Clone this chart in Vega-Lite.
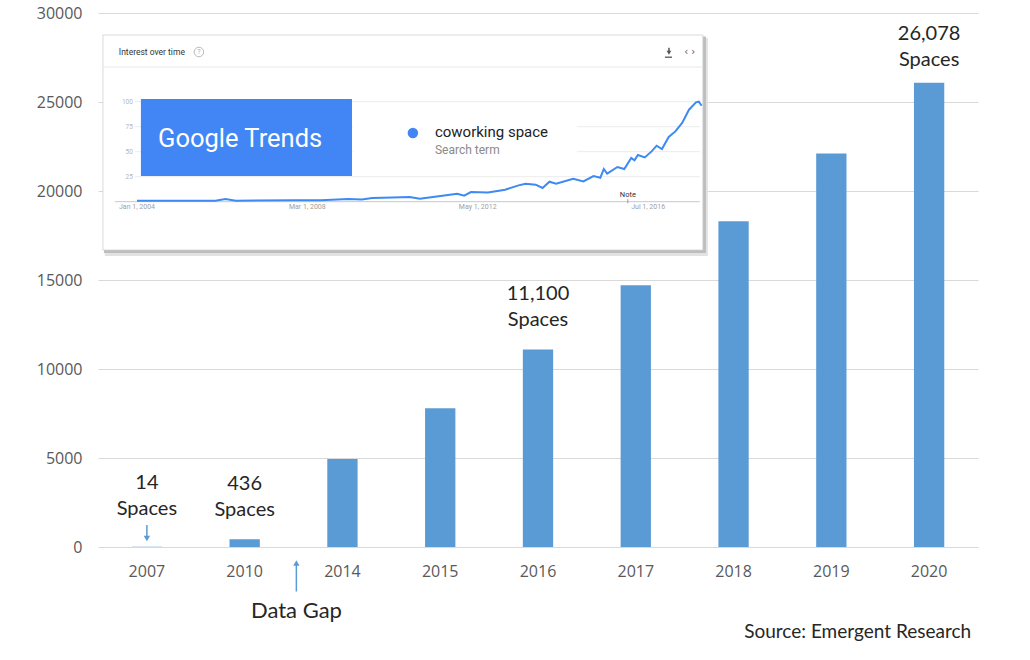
{
  "$schema": "https://vega.github.io/schema/vega-lite/v6.json",
  "width": 880,
  "height": 534,
  "autosize": {"type": "none"},
  "padding": {"left": 98, "top": 13, "right": 52, "bottom": 113},
  "background": "white",
  "config": {"view": {"stroke": null}, "font": "Open Sans"},
  "datasets": {
    "bars": [
      {"year": "2007", "spaces": 14, "note": "14\nSpaces"},
      {"year": "2010", "spaces": 436, "note": "436\nSpaces"},
      {"year": "2014", "spaces": 4950, "note": null},
      {"year": "2015", "spaces": 7800, "note": null},
      {"year": "2016", "spaces": 11100, "note": "11,100\nSpaces"},
      {"year": "2017", "spaces": 14700, "note": null},
      {"year": "2018", "spaces": 18300, "note": null},
      {"year": "2019", "spaces": 22100, "note": null},
      {"year": "2020", "spaces": 26078, "note": "26,078\nSpaces"}
    ],
    "trend": [
      {"date": "2004-01-01", "interest": 1},
      {"date": "2005-12-01", "interest": 1},
      {"date": "2006-03-01", "interest": 2.7},
      {"date": "2006-06-01", "interest": 1},
      {"date": "2007-11-01", "interest": 1.5},
      {"date": "2008-07-01", "interest": 1.5},
      {"date": "2009-03-01", "interest": 2.7},
      {"date": "2009-07-01", "interest": 2.3},
      {"date": "2009-10-01", "interest": 3.7},
      {"date": "2010-04-01", "interest": 4.3},
      {"date": "2010-09-01", "interest": 4.7},
      {"date": "2010-12-01", "interest": 3},
      {"date": "2011-05-01", "interest": 5.3},
      {"date": "2011-11-01", "interest": 8},
      {"date": "2012-01-01", "interest": 6},
      {"date": "2012-03-01", "interest": 9.7},
      {"date": "2012-08-01", "interest": 9.3},
      {"date": "2013-01-01", "interest": 12},
      {"date": "2013-05-01", "interest": 16.3},
      {"date": "2013-07-01", "interest": 18},
      {"date": "2013-10-01", "interest": 17},
      {"date": "2013-12-01", "interest": 13.7},
      {"date": "2014-02-01", "interest": 20},
      {"date": "2014-04-01", "interest": 18},
      {"date": "2014-09-01", "interest": 23},
      {"date": "2014-12-01", "interest": 20.3},
      {"date": "2015-03-01", "interest": 25.7},
      {"date": "2015-05-01", "interest": 24},
      {"date": "2015-06-01", "interest": 32.7},
      {"date": "2015-07-01", "interest": 28},
      {"date": "2015-10-01", "interest": 34.7},
      {"date": "2015-12-01", "interest": 32.7},
      {"date": "2016-02-01", "interest": 43.7},
      {"date": "2016-03-01", "interest": 41.3},
      {"date": "2016-04-01", "interest": 46.7},
      {"date": "2016-06-01", "interest": 44.3},
      {"date": "2016-08-01", "interest": 50.3},
      {"date": "2016-09-15", "interest": 56},
      {"date": "2016-11-01", "interest": 52.7},
      {"date": "2017-01-01", "interest": 64.7},
      {"date": "2017-03-01", "interest": 70.3},
      {"date": "2017-05-01", "interest": 78.7},
      {"date": "2017-07-01", "interest": 92},
      {"date": "2017-09-01", "interest": 99.3},
      {"date": "2017-09-27", "interest": 100},
      {"date": "2017-10-22", "interest": 96}
    ],
    "dateLabels": [
      {"date": "2004-01-01", "label": "Jan 1, 2004"},
      {"date": "2008-03-01", "label": "Mar 1, 2008"},
      {"date": "2012-05-01", "label": "May 1, 2012"},
      {"date": "2016-07-01", "label": "Jul 1, 2016"}
    ],
    "grid": [
      {"interest": 25, "label": "25"},
      {"interest": 50, "label": "50"},
      {"interest": 75, "label": "75"},
      {"interest": 100, "label": "100"}
    ]
  },
  "layer": [
    {
      "data": {"name": "bars"},
      "encoding": {
        "x": {
          "field": "year",
          "type": "ordinal",
          "scale": {
            "domain": ["2007", "2010", "2014", "2015", "2016", "2017", "2018", "2019", "2020"],
            "paddingInner": 0.69,
            "paddingOuter": 0.345
          },
          "axis": {
            "title": null,
            "labelAngle": 0,
            "labelFont": "Open Sans",
            "labelFontSize": 16,
            "labelColor": "#595959",
            "ticks": false,
            "domain": false,
            "labelPadding": 16
          }
        },
        "y": {
          "field": "spaces",
          "type": "quantitative",
          "scale": {"domain": [0, 30000], "nice": false},
          "axis": {
            "title": null,
            "values": [0, 5000, 10000, 15000, 20000, 25000, 30000],
            "format": "d",
            "grid": true,
            "gridColor": "#d9d9d9",
            "ticks": false,
            "domain": false,
            "labelPadding": 16,
            "labelFont": "Open Sans",
            "labelFontSize": 16,
            "labelColor": "#595959"
          }
        }
      },
      "layer": [
        {"mark": {"type": "bar", "color": "#5b9bd5"}},
        {
          "transform": [{"filter": "datum.year == '2010' || datum.year == '2016'"}],
          "mark": {"type": "text", "font": "Lato", "fontSize": 20, "color": "#262626", "baseline": "bottom", "lineBreak": "\n", "lineHeight": 26, "dy": -45},
          "encoding": {"text": {"field": "note"}}
        },
        {
          "transform": [{"filter": "datum.year == '2020'"}],
          "mark": {"type": "text", "font": "Lato", "fontSize": 20, "color": "#262626", "baseline": "bottom", "lineBreak": "\n", "lineHeight": 26, "dy": -39},
          "encoding": {"text": {"field": "note"}}
        },
        {
          "transform": [{"filter": "datum.year == '2007'"}],
          "mark": {"type": "text", "font": "Lato", "fontSize": 20, "color": "#262626", "baseline": "bottom", "lineBreak": "\n", "lineHeight": 26, "dy": -54},
          "encoding": {"text": {"field": "note"}}
        },
        {
          "transform": [{"filter": "datum.year == '2007'"}],
          "mark": {"type": "rule", "color": "#5b9bd5", "strokeWidth": 1.5},
          "encoding": {"y": {"datum": 1236, "type": "quantitative"}, "y2": {"datum": 560}}
        },
        {
          "transform": [{"filter": "datum.year == '2007'"}],
          "mark": {"type": "point", "shape": "triangle-down", "filled": true, "color": "#5b9bd5", "size": 40, "opacity": 1},
          "encoding": {"y": {"datum": 480, "type": "quantitative"}}
        },
        {
          "transform": [{"filter": "datum.year == '2014'"}],
          "mark": {"type": "rule", "color": "#5b9bd5", "strokeWidth": 1.5},
          "encoding": {"x": {"field": "year", "type": "ordinal", "bandPosition": -1.02}, "y": {"datum": -2500, "type": "quantitative"}, "y2": {"datum": -950}}
        },
        {
          "transform": [{"filter": "datum.year == '2014'"}],
          "mark": {"type": "point", "shape": "triangle-up", "filled": true, "color": "#5b9bd5", "size": 40, "opacity": 1},
          "encoding": {"x": {"field": "year", "type": "ordinal", "bandPosition": -1.02}, "y": {"datum": -900, "type": "quantitative"}}
        },
        {
          "transform": [{"filter": "datum.year == '2014'"}],
          "mark": {"type": "text", "font": "Lato", "fontSize": 22, "color": "#262626", "align": "center", "baseline": "middle", "dx": -46, "text": "Data Gap"},
          "encoding": {"y": {"datum": -3596, "type": "quantitative"}}
        },
        {
          "transform": [{"filter": "datum.year == '2020'"}],
          "mark": {"type": "text", "font": "Lato", "fontSize": 19, "color": "#262626", "align": "right", "baseline": "middle", "dx": 42, "text": "Source: Emergent Research"},
          "encoding": {"y": {"datum": -4775, "type": "quantitative"}}
        },
        {
          "transform": [{"filter": "datum.year == '2020'"}],
          "mark": {"type": "rule", "color": "#5aa9d6", "strokeWidth": 3},
          "encoding": {"x": {"field": "year", "type": "ordinal", "bandPosition": 3.88}, "y": {"datum": 30800, "type": "quantitative"}, "y2": {"datum": -6400}}
        }
      ]
    },
    {
      "data": {"name": "trend"},
      "layer": [
        {
          "data": {"values": [{}]},
          "mark": {"type": "rect", "color": "#e2e2e2"},
          "encoding": {
            "x": {"datum": {"year": 2003, "month": 3, "date": 20}, "type": "temporal", "axis": null,
              "scale": {"type": "time", "domain": [{"year": 2004, "month": 1, "date": 1}, {"year": 2018, "month": 1, "date": 1}], "range": [39, 611.6], "nice": false}},
            "x2": {"datum": {"year": 2017, "month": 12, "date": 17}},
            "y": {"datum": 163.7, "type": "quantitative", "axis": null,
              "scale": {"domain": [0, 100], "range": [188.7, 88.7], "nice": false, "zero": false}},
            "y2": {"datum": -54.3}
          }
        },
        {
          "data": {"values": [{}]},
          "mark": {"type": "rect", "color": "#bdbdbd"},
          "encoding": {
            "x": {"datum": {"year": 2003, "month": 3, "date": 12}, "type": "temporal"},
            "x2": {"datum": {"year": 2017, "month": 11, "date": 29}},
            "y": {"datum": 165.2, "type": "quantitative"},
            "y2": {"datum": -51.3}
          }
        },
        {
          "data": {"values": [{}]},
          "mark": {"type": "rect", "color": "white", "stroke": "#d0d0d0", "strokeWidth": 0.8},
          "encoding": {
            "x": {"datum": {"year": 2003, "month": 3, "date": 3}, "type": "temporal"},
            "x2": {"datum": {"year": 2017, "month": 11, "date": 2}},
            "y": {"datum": 166.7, "type": "quantitative"},
            "y2": {"datum": -48.3}
          }
        },
        {
          "data": {"values": [{}]},
          "mark": {"type": "rule", "color": "#e8e8e8", "strokeWidth": 1},
          "encoding": {
            "x": {"datum": {"year": 2003, "month": 3, "date": 6}, "type": "temporal"},
            "x2": {"datum": {"year": 2017, "month": 10, "date": 30}},
            "y": {"datum": 134.7, "type": "quantitative"}
          }
        },
        {
          "data": {"name": "grid"},
          "mark": {"type": "rule", "color": "#ececec", "strokeWidth": 1},
          "encoding": {
            "x": {"datum": {"year": 2003, "month": 12, "date": 13}, "type": "temporal"},
            "x2": {"datum": {"year": 2017, "month": 10, "date": 6}},
            "y": {"field": "interest", "type": "quantitative"}
          }
        },
        {
          "data": {"name": "grid"},
          "mark": {"type": "text", "align": "right", "baseline": "middle", "font": "Roboto", "fontSize": 6.5, "color": "#b5b5b5"},
          "encoding": {
            "x": {"datum": {"year": 2003, "month": 11, "date": 25}, "type": "temporal"},
            "y": {"field": "interest", "type": "quantitative"},
            "text": {"field": "label"}
          }
        },
        {
          "data": {"values": [{}]},
          "mark": {"type": "rule", "color": "#c8c8c8", "strokeWidth": 1},
          "encoding": {
            "x": {"datum": {"year": 2003, "month": 6, "date": 17}, "type": "temporal"},
            "x2": {"datum": {"year": 2017, "month": 10, "date": 6}},
            "y": {"datum": 0, "type": "quantitative"}
          }
        },
        {
          "data": {"name": "dateLabels"},
          "mark": {"type": "text", "align": "center", "baseline": "middle", "font": "Roboto", "fontSize": 7, "color": "#a0a0a0"},
          "encoding": {
            "x": {"field": "date", "type": "temporal"},
            "y": {"datum": -5.5, "type": "quantitative"},
            "text": {"field": "label"}
          }
        },
        {
          "mark": {"type": "line", "color": "#3d8af2", "strokeWidth": 2},
          "encoding": {
            "x": {"field": "date", "type": "temporal"},
            "y": {"field": "interest", "type": "quantitative"}
          }
        },
        {
          "data": {"values": [{}]},
          "mark": {"type": "rect", "color": "#4285f4"},
          "encoding": {
            "x": {"datum": {"year": 2004, "month": 2, "date": 5}, "type": "temporal"},
            "x2": {"datum": {"year": 2009, "month": 4, "date": 4}},
            "y": {"datum": 102.7, "type": "quantitative"},
            "y2": {"datum": 25.7}
          }
        },
        {
          "data": {"values": [{"t": "Google Trends"}]},
          "mark": {"type": "text", "align": "left", "baseline": "alphabetic", "font": "Roboto", "fontSize": 25.5, "color": "white"},
          "encoding": {
            "x": {"datum": {"year": 2004, "month": 7, "date": 7}, "type": "temporal"},
            "y": {"datum": 55, "type": "quantitative"},
            "text": {"field": "t"}
          }
        },
        {
          "data": {"values": [{}]},
          "mark": {"type": "rect", "color": "white"},
          "encoding": {
            "x": {"datum": {"year": 2009, "month": 4, "date": 12}, "type": "temporal"},
            "x2": {"datum": {"year": 2014, "month": 10, "date": 3}},
            "y": {"datum": 91.7, "type": "quantitative"},
            "y2": {"datum": 33.7}
          }
        },
        {
          "data": {"values": [{}]},
          "mark": {"type": "point", "shape": "circle", "filled": true, "color": "#4285f4", "size": 110, "opacity": 1},
          "encoding": {
            "x": {"datum": {"year": 2010, "month": 9, "date": 30}, "type": "temporal"},
            "y": {"datum": 68.7, "type": "quantitative"}
          }
        },
        {
          "data": {"values": [{"t": "coworking space"}]},
          "mark": {"type": "text", "align": "left", "baseline": "middle", "font": "Roboto", "fontSize": 15, "color": "#222222"},
          "encoding": {
            "x": {"datum": {"year": 2011, "month": 4, "date": 15}, "type": "temporal"},
            "y": {"datum": 70, "type": "quantitative"},
            "text": {"field": "t"}
          }
        },
        {
          "data": {"values": [{"t": "Search term"}]},
          "mark": {"type": "text", "align": "left", "baseline": "middle", "font": "Roboto", "fontSize": 12, "color": "#8a8a8a"},
          "encoding": {
            "x": {"datum": {"year": 2011, "month": 4, "date": 15}, "type": "temporal"},
            "y": {"datum": 51.7, "type": "quantitative"},
            "text": {"field": "t"}
          }
        },
        {
          "data": {"values": [{"t": "Interest over time"}]},
          "mark": {"type": "text", "align": "left", "baseline": "middle", "font": "Roboto", "fontSize": 8.5, "color": "#333333"},
          "encoding": {
            "x": {"datum": {"year": 2003, "month": 7, "date": 23}, "type": "temporal"},
            "y": {"datum": 149.7, "type": "quantitative"},
            "text": {"field": "t"}
          }
        },
        {
          "data": {"values": [{}]},
          "mark": {"type": "point", "shape": "circle", "filled": false, "color": "#bbbbbb", "size": 90, "strokeWidth": 1, "opacity": 1},
          "encoding": {
            "x": {"datum": {"year": 2005, "month": 7, "date": 7}, "type": "temporal"},
            "y": {"datum": 149.7, "type": "quantitative"}
          }
        },
        {
          "data": {"values": [{"t": "?"}]},
          "mark": {"type": "text", "align": "center", "baseline": "middle", "font": "Roboto", "fontSize": 7, "color": "#aaaaaa"},
          "encoding": {
            "x": {"datum": {"year": 2005, "month": 7, "date": 7}, "type": "temporal"},
            "y": {"datum": 149.7, "type": "quantitative"},
            "text": {"field": "t"}
          }
        },
        {
          "data": {"values": [{}]},
          "mark": {"type": "rule", "color": "#555555", "strokeWidth": 1.5},
          "encoding": {
            "x": {"datum": {"year": 2017, "month": 1, "date": 3}, "type": "temporal"},
            "y": {"datum": 154, "type": "quantitative"},
            "y2": {"datum": 150}
          }
        },
        {
          "data": {"values": [{}]},
          "mark": {"type": "point", "shape": "triangle-down", "filled": true, "color": "#555555", "size": 22, "opacity": 1},
          "encoding": {
            "x": {"datum": {"year": 2017, "month": 1, "date": 3}, "type": "temporal"},
            "y": {"datum": 149, "type": "quantitative"}
          }
        },
        {
          "data": {"values": [{}]},
          "mark": {"type": "rule", "color": "#555555", "strokeWidth": 1.3},
          "encoding": {
            "x": {"datum": {"year": 2016, "month": 11, "date": 28}, "type": "temporal"},
            "x2": {"datum": {"year": 2017, "month": 1, "date": 30}},
            "y": {"datum": 144.5, "type": "quantitative"}
          }
        },
        {
          "data": {"values": [{"t": "‹ ›"}]},
          "mark": {"type": "text", "align": "center", "baseline": "middle", "font": "DejaVu Sans", "fontSize": 10, "color": "#555555"},
          "encoding": {
            "x": {"datum": {"year": 2017, "month": 7, "date": 8}, "type": "temporal"},
            "y": {"datum": 150, "type": "quantitative"},
            "text": {"field": "t"}
          }
        },
        {
          "data": {"values": [{"t": "Note"}]},
          "mark": {"type": "text", "align": "center", "baseline": "middle", "font": "Roboto", "fontSize": 7.5, "color": "#333333"},
          "encoding": {
            "x": {"datum": {"year": 2016, "month": 1, "date": 2}, "type": "temporal"},
            "y": {"datum": 6.5, "type": "quantitative"},
            "text": {"field": "t"}
          }
        },
        {
          "data": {"values": [{}]},
          "mark": {"type": "rule", "color": "#999999", "strokeWidth": 1},
          "encoding": {
            "x": {"datum": {"year": 2016, "month": 1, "date": 2}, "type": "temporal"},
            "y": {"datum": 2.5, "type": "quantitative"},
            "y2": {"datum": -1.5}
          }
        }
      ]
    }
  ],
  "resolve": {"scale": {"x": "independent", "y": "independent"}}
}
